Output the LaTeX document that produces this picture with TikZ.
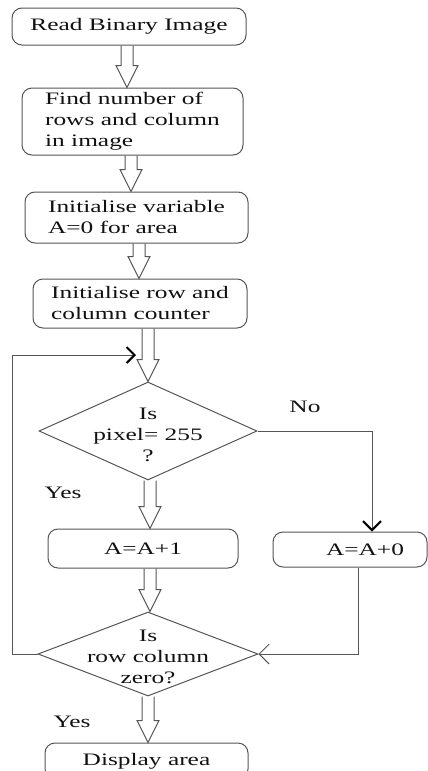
\documentclass[tikz,border=0pt]{standalone}
\usepackage{fontspec}
\setmainfont{Liberation Serif}[FakeStretch=1.45]
\usetikzlibrary{calc,shapes.geometric,arrows.meta}
\definecolor{linecol}{HTML}{555555}
\definecolor{txtcol}{HTML}{111111}
\newcommand\fs{\fontsize{17.5}{21}\selectfont}
\newcommand\hollowarrow[3]{%
  \draw[harrow] let \p1=(#1.south), \p2=(#2.north) in
   ({#3pt-6pt},\y1) -- ({#3pt-6pt},\y2+22pt) -- ({#3pt-11pt},\y2+22pt) -- (#3pt,\y2)
   -- ({#3pt+11pt},\y2+22pt) -- ({#3pt+6pt},\y2+22pt) -- ({#3pt+6pt},\y1);}
\tikzset{
  box/.style={draw=linecol, line width=1pt, rounded corners=10pt, inner sep=0pt,
    align=left, text=txtcol, font=\fs},
  dia/.style={draw=linecol, line width=1pt, shape=diamond, inner sep=0pt},
  dtext/.style={align=center, text=txtcol, font=\fs, inner sep=0pt},
  lbl/.style={text=txtcol, font=\fs, inner sep=0pt},
  harrow/.style={draw=linecol, line width=1pt, line join=miter},
  conn/.style={draw=linecol, line width=1pt},
}
\begin{document}
\begin{tikzpicture}[x={(1pt,0)}, y={(0,-1pt)}]
\useasboundingbox (0,0) rectangle (428,771);
\node[box, minimum width=234pt, minimum height=37pt] (b1) at (129,26.5) {Read Binary Image};
\node[box, minimum width=221pt, minimum height=67pt] (b2) at (132.5,121.5) {Find number of\\rows and column\\in image};
\node[box, minimum width=223pt, minimum height=51pt] (b3) at (136.5,217.5) {Initialise variable\\A=0 for area};
\node[box, minimum width=214pt, minimum height=49pt] (b4) at (140,303.5) {Initialise row and\\column counter};
\node[dia, minimum width=218pt, minimum height=98pt] (d1) at (148,431) {};
\node[dtext] (t1) at (148,435) {Is\\pixel= 255\\?};
\node[box, minimum width=190pt, minimum height=39pt] (a1) at (143,548.5) {A=A+1};
\node[box, minimum width=154pt, minimum height=35pt] (a0) at (350,549.5) {\hspace*{30pt}A=A+0};
\node[dia, minimum width=220pt, minimum height=84pt] (d2) at (148,654) {};
\node[dtext] (t2) at (148,657) {Is\\row column\\zero?};
\node[box, minimum width=203pt, minimum height=36pt] (b5) at (146.5,761) {Display area};

\node[lbl] (no) at (305,407) {No};
\node[lbl] (yes1) at (63,493) {Yes};
\node[lbl] (yes2) at (72,722) {Yes};

\hollowarrow{b1}{b2}{127}
\hollowarrow{b2}{b3}{131}
\hollowarrow{b3}{b4}{139}
\hollowarrow{b4}{d1}{148}
\hollowarrow{d1}{a1}{150}
\hollowarrow{a1}{d2}{150}
\hollowarrow{d2}{b5}{148}

\coordinate (loopL) at (12,355);
\coordinate (loopEnd) at (136,355);
\draw[conn, -{Straight Barb[length=8pt,width=16pt,line width=2pt,color=black]}]
  (d2.west) -| (loopL) -- (loopEnd);

\coordinate (noTurn) at (372,431);
\draw[conn, -{Straight Barb[length=9pt,width=18pt,line width=2pt,color=black]}]
  (d1.east) -- (noTurn) -- (noTurn |- a0.north);

\coordinate (retX) at (358,0);
\draw[conn, -{Straight Barb[length=10pt,width=20pt]}]
  (retX |- a0.south) |- (d2.east);
\end{tikzpicture}
\end{document}
